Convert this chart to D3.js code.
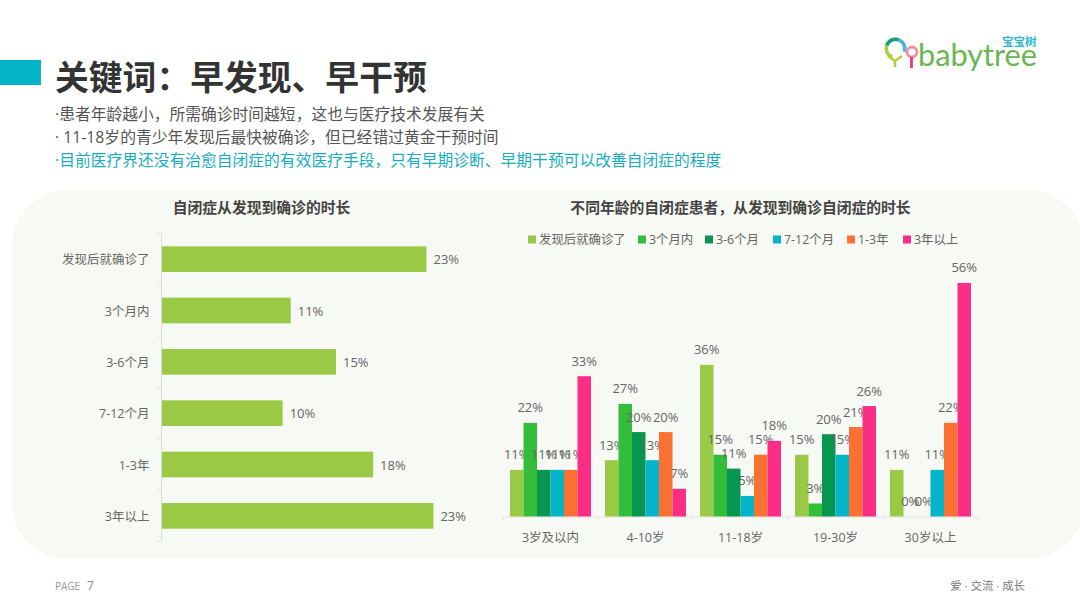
<!DOCTYPE html>
<html><head><meta charset="utf-8">
<script src="https://cdn.jsdelivr.net/npm/d3@7/dist/d3.min.js"></script>
<style>
html,body{margin:0;padding:0;background:#fff;overflow:hidden}
svg{display:block}
text{font-family:"Open Sans","Noto Sans CJK SC",sans-serif}
</style></head><body>
<svg id="c" width="1080" height="608"></svg>
<script>
const pageTitle = "关键词：早发现、早干预";
const bullets = ["·患者年龄越小，所需确诊时间越短，这也与医疗技术发展有关",
                 "· 11-18岁的青少年发现后最快被确诊，但已经错过黄金干预时间",
                 "·目前医疗界还没有治愈自闭症的有效医疗手段，只有早期诊断、早期干预可以改善自闭症的程度"];
const leftTitle = "自闭症从发现到确诊的时长";
const rightTitle = "不同年龄的自闭症患者，从发现到确诊自闭症的时长";
const durations = ["发现后就确诊了","3个月内","3-6个月","7-12个月","1-3年","3年以上"];
const overall = [22.8,11.1,15.0,10.4,18.2,23.4];
const ages = ["3岁及以内","4-10岁","11-18岁","19-30岁","30岁以上"];
const sFound = [11.1,13.4,36.1,14.7,11.1];
const s3m = [22.3,26.8,14.7,3.1,0];
const s6m = [11.1,20.1,11.4,19.6,0];
const s12m = [11.1,13.4,4.9,14.7,11.1];
const s3y = [11.1,20.1,14.7,21.3,22.3];
const sOver = [33.4,6.6,18.0,26.3,55.6];
const seriesValues = [sFound,s3m,s6m,s12m,s3y,sOver];
const seriesColors = ["#9aca45","#34bd3a","#07964f","#04b4c8","#fb7132","#fb2d85"];

const svg = d3.select("#c");
svg.append("rect").attr("x",0).attr("y",60).attr("width",41).attr("height",25).attr("fill","#05b4c9");
svg.append("text").attr("x",55).attr("y",90).attr("font-size",33.8).attr("font-weight",700).attr("fill","#333").text(pageTitle);
bullets.forEach((b,i)=>svg.append("text").attr("x",55).attr("y",[120,143,166][i]).attr("font-size",15.78)
  .attr("fill",i==2?"#14aebf":"#555").text(b));

// panel
svg.append("rect").attr("x",12).attr("y",190).attr("width",1072).attr("height",369).attr("rx",56).attr("fill","#f7f9f4");

svg.append("text").attr("x",261.5).attr("y",213).attr("text-anchor","middle").attr("font-size",14.8).attr("font-weight",700).attr("fill","#444").text(leftTitle);
svg.append("text").attr("x",740.5).attr("y",213).attr("text-anchor","middle").attr("font-size",14.8).attr("font-weight",700).attr("fill","#444").text(rightTitle);

// left chart
const y0 = d3.scaleBand().domain(durations).range([233.5,541.5]).paddingInner(0.5).paddingOuter(0.25);
const x0 = d3.scaleLinear().domain([0,10]).range([162,278]);
const gl = svg.append("g");
const yAxis = d3.axisLeft(d3.scaleBand().domain(durations).range([234.5,542.5])).tickSize(0).tickPadding(12);
const ga = gl.append("g").attr("transform","translate(161.5,0)").call(yAxis);
ga.select(".domain").attr("stroke","#dcdcdc").attr("d","M0,233V541.5");
ga.selectAll("text").attr("font-size",12.5).attr("fill","#666");
d3.range(durations.length+1).forEach(i=>{
  const yy = 233.5+i*308/durations.length;
  gl.append("line").attr("x1",157).attr("x2",161.5).attr("y1",yy).attr("y2",yy).attr("stroke","#e4e4e4");
});
gl.selectAll("rect.b").data(overall).join("rect").attr("class","b")
  .attr("x",x0(0)).attr("y",(d,i)=>y0(durations[i])).attr("height",y0.bandwidth())
  .attr("width",d=>x0(d)-x0(0)).attr("fill",seriesColors[0]);
gl.selectAll("text.v").data(overall).join("text").attr("class","v")
  .attr("x",d=>x0(d)+7).attr("y",(d,i)=>y0(durations[i])+y0.bandwidth()/2+5)
  .attr("font-size",13).attr("fill","#666").text(d=>Math.round(d)+"%");

// right chart
const xA = d3.scaleBand().domain(ages).range([503,978]);
const inner = 81/6;
const yR = d3.scaleLinear().domain([0,10]).range([516.5,474.5]);
const gr = svg.append("g");
const xAxis = d3.axisBottom(xA).tickSize(0).tickPadding(16.5);
const gx = gr.append("g").attr("transform","translate(0,516.5)").call(xAxis);
gx.select(".domain").attr("stroke","#e2e2e2");
gx.selectAll("text").attr("font-size",12.5).attr("fill","#666");
d3.range(ages.length+1).forEach(i=>{
  const xx = 503+i*95;
  gr.append("line").attr("x1",xx).attr("x2",xx).attr("y1",516.5).attr("y2",521).attr("stroke","#e4e4e4");
});
seriesValues.forEach((vals,s)=>{
  const g = gr.append("g");
  g.selectAll("rect").data(vals).join("rect")
    .attr("x",(d,i)=>xA(ages[i])+7+s*inner).attr("width",inner)
    .attr("y",d=>yR(d)).attr("height",d=>yR(0)-yR(d)).attr("fill",seriesColors[s]);
  g.selectAll("text").data(vals).join("text")
    .attr("x",(d,i)=>xA(ages[i])+7+s*inner+inner/2).attr("y",d=>yR(d)-10.5)
    .attr("text-anchor","middle").attr("font-size",13).attr("fill","#666").text(d=>Math.round(d)+"%");
});

// legend
const legendX = [528,638,705,773,847,903];
durations.forEach((d,i)=>{
  svg.append("rect").attr("x",legendX[i]).attr("y",235.5).attr("width",8).attr("height",8).attr("fill",seriesColors[i]);
  svg.append("text").attr("x",legendX[i]+11).attr("y",244).attr("font-size",12.4).attr("fill","#666").text(d);
});

// footer
svg.append("text").attr("x",55).attr("y",590).attr("font-size",10).attr("fill","#999").text("PAGE");
svg.append("text").attr("x",87).attr("y",590).attr("font-size",12).attr("fill","#888").text("7");
svg.append("text").attr("x",1025).attr("y",590).attr("text-anchor","end").attr("font-size",11.4).attr("fill","#777").text("爱 · 交流 · 成长");

// logo
const lg = svg.append("g");
lg.append("text").attr("x",918).attr("y",66).style("font-family","Lato").attr("font-size",30).attr("fill","#6cb650")
  .attr("textLength",119).attr("lengthAdjust","spacingAndGlyphs").text("babytree");
lg.append("text").attr("x",1002).attr("y",46).attr("font-size",11.5).attr("font-weight",700).attr("fill","#2fb6cf").text("宝宝树");
const arc = d3.arc();
[[-160,-70,"#a8cf45"],[-70,20,"#0f9d76"],[20,110,"#3fb7d0"]].forEach(a=>{
  lg.append("path").attr("transform","translate(895.5,48.5)").attr("fill",a[2])
    .attr("d",arc({innerRadius:7.5,outerRadius:11,startAngle:a[0]*Math.PI/180,endAngle:a[1]*Math.PI/180}));
});
lg.append("path").attr("d","M888,56L895,61L902,56M895,61V67").attr("fill","none").attr("stroke","#b5cf3a").attr("stroke-width",2.5);
lg.append("circle").attr("cx",912).attr("cy",52).attr("r",5).attr("fill","none").attr("stroke","#ef8fa8").attr("stroke-width",2.8);
lg.append("line").attr("x1",911.5).attr("x2",911.5).attr("y1",57).attr("y2",68).attr("stroke","#e8396e").attr("stroke-width",2.8);
</script>
</body></html>
